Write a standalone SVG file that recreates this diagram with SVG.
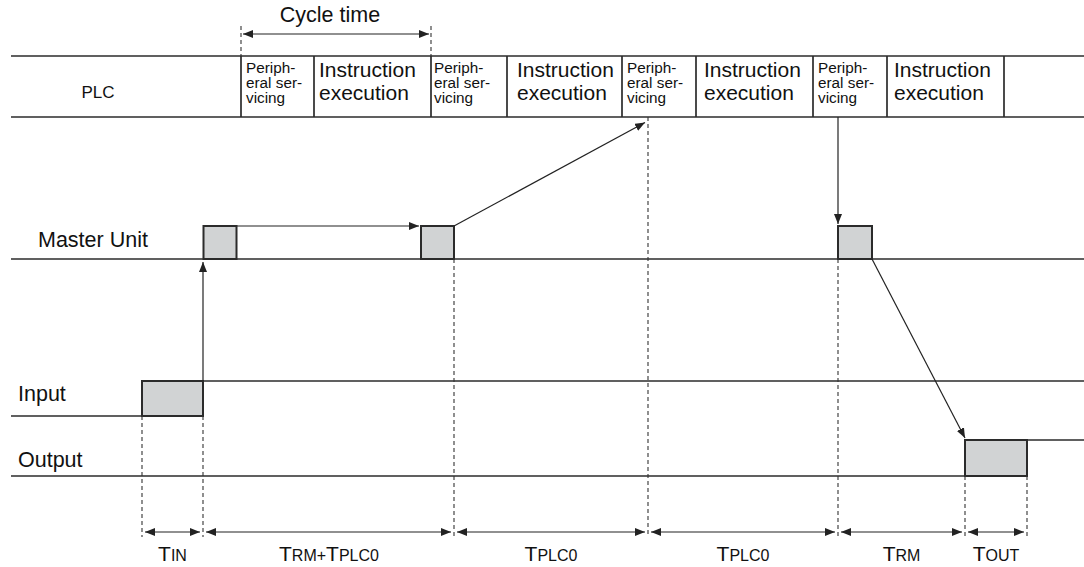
<svg xmlns="http://www.w3.org/2000/svg" width="1084" height="567" viewBox="0 0 1084 567">
<style>
  .ln{stroke:#2b2b2b;stroke-width:1.7;fill:none}
  .cell{stroke:#2b2b2b;stroke-width:1.7;fill:none}
  .box{stroke:#2b2b2b;stroke-width:2;fill:#d1d3d4}
  .dash{stroke:#333;stroke-width:1.1;stroke-dasharray:4,3;fill:none}
  .arr{stroke:#222;stroke-width:1.2;fill:none}
  .t{font-family:"Liberation Sans",Arial,sans-serif;fill:#111}
  .big{font-size:21px}
  .lab{font-size:21.5px}
  .sm{font-size:15.3px}
  .lbl{font-size:21px}
  .sub{font-size:16px}
</style>
<defs>
  <marker id="ah" viewBox="0 0 10 8" refX="10" refY="4" markerWidth="10" markerHeight="8" orient="auto-start-reverse" markerUnits="userSpaceOnUse">
    <path d="M0,0 L10,4 L0,8 z" fill="#222"/>
  </marker>
</defs>
<rect width="1084" height="567" fill="#fff"/>

<g id="cycle-time">
  <line class="dash" x1="241" y1="26" x2="241" y2="56"/>
  <line class="dash" x1="431" y1="26" x2="431" y2="56"/>
  <line class="arr" x1="243" y1="34" x2="429" y2="34" marker-start="url(#ah)" marker-end="url(#ah)"/>
  <text class="t lab" x="330" y="22" text-anchor="middle">Cycle time</text>
</g>

<g id="plc-row">
  <line class="ln" x1="11" y1="56" x2="1084" y2="56"/>
  <line class="ln" x1="11" y1="117" x2="1084" y2="117"/>
  <g class="cell">
    <line x1="241" y1="56" x2="241" y2="117"/>
    <line x1="314" y1="56" x2="314" y2="117"/>
    <line x1="431" y1="56" x2="431" y2="117"/>
    <line x1="507" y1="56" x2="507" y2="117"/>
    <line x1="622" y1="56" x2="622" y2="117"/>
    <line x1="696" y1="56" x2="696" y2="117"/>
    <line x1="813" y1="56" x2="813" y2="117"/>
    <line x1="887" y1="56" x2="887" y2="117"/>
    <line x1="1004" y1="56" x2="1004" y2="117"/>
  </g>
  <text class="t" x="98" y="98" text-anchor="middle" font-size="17">PLC</text>
  <g class="t sm">
    <text x="246" y="73.3">Periph-</text><text x="246" y="88.3">eral ser-</text><text x="246" y="103.3">vicing</text>
    <text x="434" y="73.3">Periph-</text><text x="434" y="88.3">eral ser-</text><text x="434" y="103.3">vicing</text>
    <text x="627" y="73.3">Periph-</text><text x="627" y="88.3">eral ser-</text><text x="627" y="103.3">vicing</text>
    <text x="818" y="73.3">Periph-</text><text x="818" y="88.3">eral ser-</text><text x="818" y="103.3">vicing</text>
  </g>
  <g class="t big">
    <text x="319" y="77">Instruction</text><text x="319" y="99.5">execution</text>
    <text x="517" y="77">Instruction</text><text x="517" y="99.5">execution</text>
    <text x="704" y="77">Instruction</text><text x="704" y="99.5">execution</text>
    <text x="894" y="77">Instruction</text><text x="894" y="99.5">execution</text>
  </g>
</g>

<g id="master-unit">
  <line class="ln" x1="11" y1="259" x2="1084" y2="259"/>
  <rect class="box" x="203.5" y="226" width="33" height="33"/>
  <rect class="box" x="421" y="226" width="33" height="33"/>
  <rect class="box" x="838" y="226" width="34" height="33"/>
  <text class="t lab" x="38" y="247">Master Unit</text>
</g>

<g id="input">
  <line class="ln" x1="11" y1="416" x2="142" y2="416"/>
  <line class="ln" x1="203" y1="381" x2="1084" y2="381"/>
  <rect class="box" x="142" y="381" width="61" height="35"/>
  <text class="t lab" x="18" y="400.5">Input</text>
</g>

<g id="output">
  <line class="ln" x1="11" y1="476" x2="965" y2="476"/>
  <line class="ln" x1="1027" y1="440" x2="1084" y2="440"/>
  <rect class="box" x="965" y="440" width="62" height="36"/>
  <text class="t lab" x="18" y="466.5">Output</text>
</g>

<g id="connectors">
  <line class="arr" x1="203" y1="381" x2="203" y2="262" marker-end="url(#ah)"/>
  <line class="arr" x1="237" y1="226" x2="419" y2="226" marker-end="url(#ah)"/>
  <line class="arr" x1="454" y1="226" x2="645" y2="122.5" marker-end="url(#ah)"/>
  <line class="arr" x1="838" y1="117" x2="838" y2="224" marker-end="url(#ah)"/>
  <line class="arr" x1="872" y1="259" x2="965" y2="438" marker-end="url(#ah)"/>
</g>

<g id="timing-guides">
  <line class="dash" x1="142" y1="416" x2="142" y2="537"/>
  <line class="dash" x1="203" y1="416" x2="203" y2="537"/>
  <line class="dash" x1="454" y1="259" x2="454" y2="537"/>
  <line class="dash" x1="648" y1="117" x2="648" y2="537"/>
  <line class="dash" x1="838" y1="259" x2="838" y2="537"/>
  <line class="dash" x1="965" y1="476" x2="965" y2="537"/>
  <line class="dash" x1="1027" y1="476" x2="1027" y2="537"/>
</g>

<g id="dimensions">
  <line class="arr" x1="145" y1="532" x2="200" y2="532" marker-start="url(#ah)" marker-end="url(#ah)"/>
  <line class="arr" x1="206" y1="532" x2="451" y2="532" marker-start="url(#ah)" marker-end="url(#ah)"/>
  <line class="arr" x1="457" y1="532" x2="645" y2="532" marker-start="url(#ah)" marker-end="url(#ah)"/>
  <line class="arr" x1="651" y1="532" x2="835" y2="532" marker-start="url(#ah)" marker-end="url(#ah)"/>
  <line class="arr" x1="841" y1="532" x2="962" y2="532" marker-start="url(#ah)" marker-end="url(#ah)"/>
  <line class="arr" x1="968" y1="532" x2="1024" y2="532" marker-start="url(#ah)" marker-end="url(#ah)"/>
  <g class="t lbl" text-anchor="middle">
    <text x="172.5" y="561">T<tspan class="sub">IN</tspan></text>
    <text x="329" y="561">T<tspan class="sub">RM+</tspan>T<tspan class="sub">PLC0</tspan></text>
    <text x="551" y="561">T<tspan class="sub">PLC0</tspan></text>
    <text x="743" y="561">T<tspan class="sub">PLC0</tspan></text>
    <text x="901.5" y="561">T<tspan class="sub">RM</tspan></text>
    <text x="996" y="561">T<tspan class="sub">OUT</tspan></text>
  </g>
</g>
</svg>
